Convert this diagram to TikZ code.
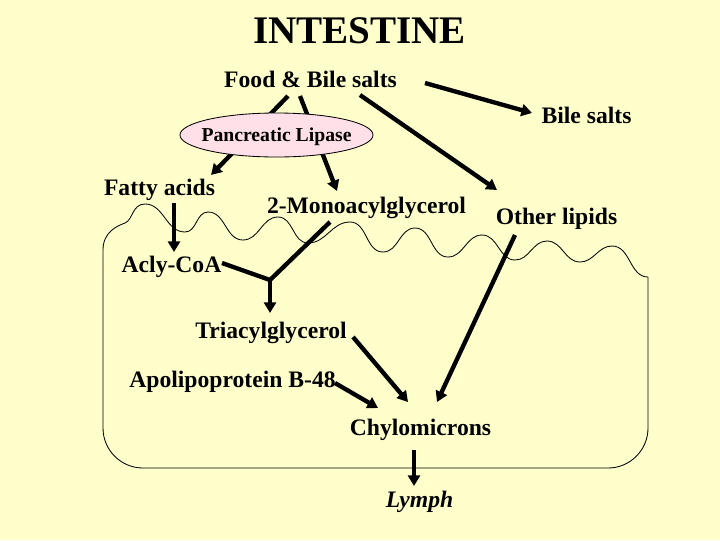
\documentclass[tikz,border=0pt]{standalone}
\usepackage{fontspec}
\setmainfont{Liberation Serif}
\usetikzlibrary{arrows.meta,shapes.geometric}
\definecolor{bgyellow}{RGB}{255,255,204}
\definecolor{lipasepink}{RGB}{255,224,232}
\begin{document}
\begin{tikzpicture}[x=0.025cm,y=-0.025cm,
  lbl/.style={font=\fontsize{16.8}{20}\selectfont\bfseries, anchor=base, inner sep=0pt},
  titlelbl/.style={font=\fontsize{27.8}{32}\selectfont\bfseries, anchor=base, inner sep=0pt},
  arr/.style={line width=3.1pt, -{Triangle[length=7.5pt,width=8.5pt]}},
  link/.style={line width=3.1pt, line join=miter},
  membrane/.style={line width=0.6pt}]
\fill[bgyellow] (0,0) rectangle (720,540);
\useasboundingbox (0,0) rectangle (720,540);

% membrane of the cell
\draw[membrane, rounded corners=1cm] (648,277) -- (648,468) -- (103,468) -- (103,250);
\draw[membrane] (103,250) .. controls (103,232) and (117,226) .. (125,223)
  .. controls (133,220) and (132,204) .. (145,204)
  to[out=0,in=180] (185,232) to[out=0,in=180] (208,212)
  to[out=0,in=180] (243,240) to[out=0,in=180] (278,217)
  to[out=0,in=180] (308,243) to[out=0,in=180] (350,222)
  to[out=0,in=180] (383,252) to[out=0,in=180] (415,228)
  to[out=0,in=180] (448,257) to[out=0,in=180] (482,235)
  to[out=0,in=180] (515,260) to[out=0,in=180] (547,241)
  to[out=0,in=180] (580,262) to[out=0,in=180] (612,246)
  to[out=0,in=180] (648,277);

% labels
\node[titlelbl] (title) at (359.5,43) {INTESTINE};
\node[lbl] (food) at (310.5,87) {Food \& Bile salts};
\node[lbl] (bile) at (586.5,123) {Bile salts};
\node[lbl] (fatty) at (159.5,195) {Fatty acids};
\node[lbl] (mono) at (366.5,213) {2-Monoacylglycerol};
\node[lbl] (other) at (556.5,224) {Other lipids};
\node[lbl] (acyl) at (171.5,272) {Acly-CoA};
\node[lbl] (tri) at (271,338) {Triacylglycerol};
\node[lbl] (apo) at (232.5,387) {Apolipoprotein B-48};
\node[lbl] (chylo) at (420.5,435) {Chylomicrons};
\node[lbl, font=\fontsize{16.8}{20}\selectfont\bfseries\itshape] (lymph) at (419.5,507) {Lymph};
\coordinate (j) at (270,280);

% connectors
\draw[arr] ([shift={(-22.5,9)}]food.base) -- ([shift={(51.5,-20)}]fatty.base);
\draw[arr] ([shift={(-10.5,9)}]food.base) -- ([shift={(-29.5,-22)}]mono.base);
\draw[arr] ([shift={(49.5,8)}]food.base) -- ([shift={(-59.5,-34)}]other.base);
\draw[arr] ([shift={(114.5,-4)}]food.base) -- ([shift={(-54.5,-10)}]bile.base);
\draw[arr] ([shift={(14.5,8)}]fatty.base) -- ([shift={(2.5,-20)}]acyl.base);
\draw[link] ([shift={(50.5,-9)}]acyl.base) -- (j) -- ([shift={(-36.5,9)}]mono.base);
\draw[arr] (j) -- ([shift={(-1,-25)}]tri.base);
\draw[arr] ([shift={(82,-1)}]tri.base) -- ([shift={(-12.5,-33)}]chylo.base);
\draw[arr] ([shift={(102.5,-4)}]apo.base) -- ([shift={(-42.5,-27)}]chylo.base);
\draw[arr] ([shift={(-41.5,11)}]other.base) -- ([shift={(16.5,-33)}]chylo.base);
\draw[arr] ([shift={(-6.5,15)}]chylo.base) -- ([shift={(-5.5,-21)}]lymph.base);

% enzyme
\node[ellipse, draw, line width=0.6pt, fill=lipasepink, minimum width=4.825cm,
  minimum height=1.1cm, inner sep=0pt] (lipase) at (276.5,135) {};
\node[font=\fontsize{14}{16}\selectfont\bfseries, anchor=base, inner sep=0pt]
  (lipasetxt) at (276.5,141) {Pancreatic Lipase};
\end{tikzpicture}
\end{document}
